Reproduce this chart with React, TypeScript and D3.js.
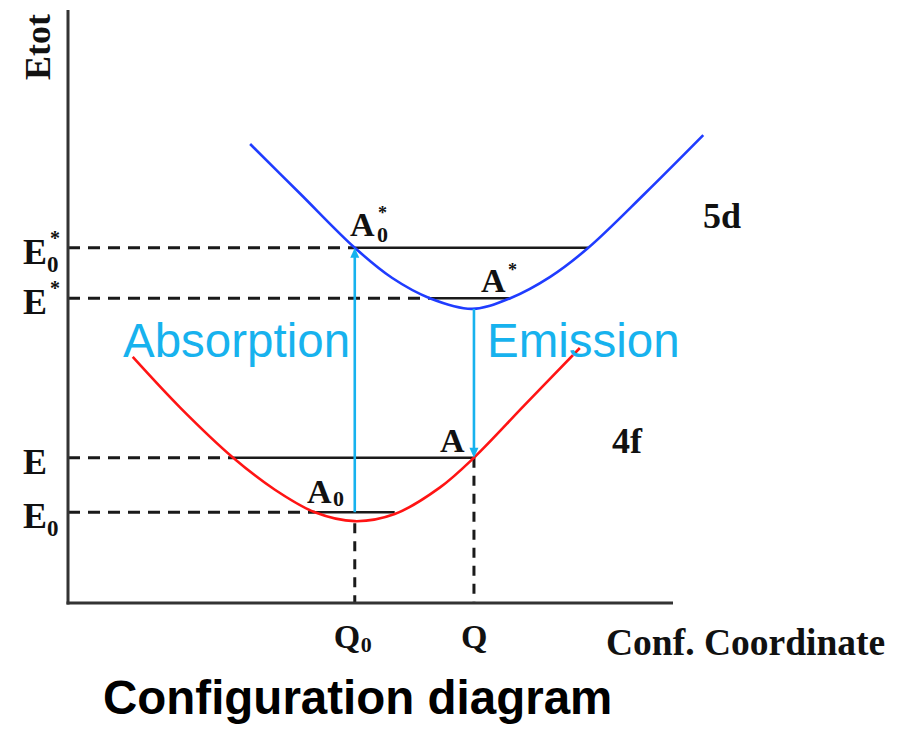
import React from "react";
import * as d3 from "d3";

// ---- data (arbitrary configuration-coordinate / energy units) ----
const qNames = ["Q0", "Q"];
const qValues = [4.74, 6.71];

const levelNames = ["E0*", "E*", "E", "E0"];
const levelValues = [5.99, 5.14, 2.45, 1.53];
const levelSolidFrom = [4.74, 5.98, 2.73, 4.08];
const levelSolidTo = [8.6, 7.31, 6.71, 5.4];

// 5d (excited) potential curve
const upperQ = [3.01, 3.83, 4.74, 5.36, 5.98, 6.68, 7.31, 7.97, 8.6, 9.54, 10.5];
const upperE = [7.74, 6.91, 5.99, 5.48, 5.14, 4.96, 5.14, 5.5, 5.99, 6.91, 7.89];

// 4f (ground) potential curve
const lowerQ = [1.07, 1.85, 2.73, 3.42, 4.08, 4.74, 5.4, 6.15, 6.71, 7.55, 8.46];
const lowerE = [4.15, 3.3, 2.45, 1.91, 1.53, 1.38, 1.5, 1.95, 2.45, 3.34, 4.3];

// transitions
const absorptionFromTo = [1.53, 5.99]; // at Q0
const emissionFromTo = [4.96, 2.45]; // at Q

const W = 906;
const H = 729;
const X0 = 68;
const X1 = 673;
const Y0 = 603;
const Y1 = 10;

const serif = "'Liberation Serif', 'Times New Roman', serif";
const sans = "'Liberation Sans', Arial, sans-serif";
const CYAN = "#17b2ee";

export default function App() {
  const x = d3.scaleLinear().domain([0, 10]).range([X0, X1]);
  const y = d3.scaleLinear().domain([0, 10]).range([Y0, Y1]);

  const line = d3
    .line<[number, number]>()
    .x((d) => x(d[0]))
    .y((d) => y(d[1]))
    .curve(d3.curveCatmullRom.alpha(0.5));

  const upperPts: [number, number][] = upperQ.map((q, i) => [q, upperE[i]]);
  const lowerPts: [number, number][] = lowerQ.map((q, i) => [q, lowerE[i]]);

  const dash = "12 8";
  const dark = "#1a1a1a";

  const arrowHead = (px: number, py: number, dir: number) => {
    const L = 10;
    const w = 4.5;
    return `M${px},${py} L${px - w},${py - dir * L} L${px + w},${py - dir * L} Z`;
  };

  const ax = x(qValues[0]);
  const ex = x(qValues[1]);

  return (
    <svg width={W} height={H} style={{ position: "absolute", left: 0, top: 0, background: "#fff" }}>
      <rect width={W} height={H} fill="#fff" />

      {/* dashed level lines and solid segments */}
      {levelValues.map((v, i) => (
        <g key={levelNames[i]}>
          <line x1={X0} x2={x(levelSolidFrom[i])} y1={y(v)} y2={y(v)} stroke={dark} strokeWidth={3} strokeDasharray={dash} />
          <line x1={x(levelSolidFrom[i])} x2={x(levelSolidTo[i])} y1={y(v)} y2={y(v)} stroke={dark} strokeWidth={2.5} />
        </g>
      ))}

      {/* vertical dashed lines to Q axis */}
      <line x1={ax} x2={ax} y1={y(lowerE[5]) + 2} y2={Y0} stroke={dark} strokeWidth={3} strokeDasharray="10 8" />
      <line x1={ex} x2={ex} y1={y(levelValues[2])} y2={Y0} stroke={dark} strokeWidth={3} strokeDasharray="10 8" />

      {/* curves */}
      <path d={line(upperPts) || ""} fill="none" stroke="#1f3cff" strokeWidth={2.6} />
      <path d={line(lowerPts) || ""} fill="none" stroke="#ff1414" strokeWidth={2.6} />

      {/* transitions */}
      <line x1={ax} x2={ax} y1={y(absorptionFromTo[0])} y2={y(absorptionFromTo[1]) + 8} stroke={CYAN} strokeWidth={2.6} />
      <path d={arrowHead(ax, y(absorptionFromTo[1]), -1)} fill={CYAN} />
      <line x1={ex} x2={ex} y1={y(emissionFromTo[0])} y2={y(emissionFromTo[1]) - 8} stroke={CYAN} strokeWidth={2.6} />
      <path d={arrowHead(ex, y(emissionFromTo[1]), 1)} fill={CYAN} />

      {/* axes */}
      <line x1={X0} x2={X0} y1={Y1} y2={Y0 + 1.5} stroke="#333" strokeWidth={3} />
      <line x1={X0 - 1.5} x2={X1} y1={Y0} y2={Y0} stroke="#333" strokeWidth={3} />

      {/* y axis title */}
      <text transform={`translate(50,47) rotate(-90)`} textAnchor="middle" fontFamily={serif} fontWeight="bold" fontSize={36} fill="#111">
        Etot
      </text>

      {/* level labels */}
      {levelNames.map((n, i) => {
        const base = n[0];
        const sub = n.includes("0") ? "0" : "";
        const sup = n.includes("*") ? "*" : "";
        const yy = y(levelValues[i]) + 16;
        return (
          <g key={"lab" + n} fontFamily={serif} fontWeight="bold" fill="#111">
            <text x={23} y={yy} fontSize={36}>{base}</text>
            {sup && <text x={50} y={yy - 19} fontSize={20}>*</text>}
            {sub && <text x={47} y={yy + 8} fontSize={23}>0</text>}
          </g>
        );
      })}

      {/* point labels */}
      <g fontFamily={serif} fontWeight="bold" fill="#111">
        <text x={350} y={y(levelValues[0]) - 12} fontSize={34}>A</text>
        <text x={378} y={y(levelValues[0]) - 29} fontSize={18}>*</text>
        <text x={377} y={y(levelValues[0]) - 6} fontSize={22}>0</text>

        <text x={481} y={y(levelValues[1]) - 6} fontSize={34}>A</text>
        <text x={508} y={y(levelValues[1]) - 22} fontSize={18}>*</text>

        <text x={440} y={y(levelValues[2]) - 6} fontSize={34}>A</text>

        <text x={307} y={y(levelValues[3]) - 9} fontSize={34}>A</text>
        <text x={333} y={y(levelValues[3]) - 6} fontSize={22}>0</text>

        <text x={703} y={228} fontSize={36}>5d</text>
        <text x={612} y={453} fontSize={36}>4f</text>

        {qNames.map((n, i) => (
          <g key={n}>
            <text x={x(qValues[i]) - (n.length > 1 ? 21 : 13)} y={648} fontSize={34}>{n[0]}</text>
            {n.length > 1 && <text x={x(qValues[i]) + 6} y={652} fontSize={22}>{n.slice(1)}</text>}
          </g>
        ))}

        <text x={606} y={655} fontSize={37.5}>Conf. Coordinate</text>
      </g>

      {/* transition labels */}
      <text x={123} y={357} fontFamily={sans} fontSize={47.5} fill={CYAN}>Absorption</text>
      <text x={487} y={357} fontFamily={sans} fontSize={47.5} fill={CYAN}>Emission</text>

      {/* title */}
      <text x={103} y={714} fontFamily={sans} fontWeight="bold" fontSize={47.5} fill="#000">Configuration diagram</text>
    </svg>
  );
}
